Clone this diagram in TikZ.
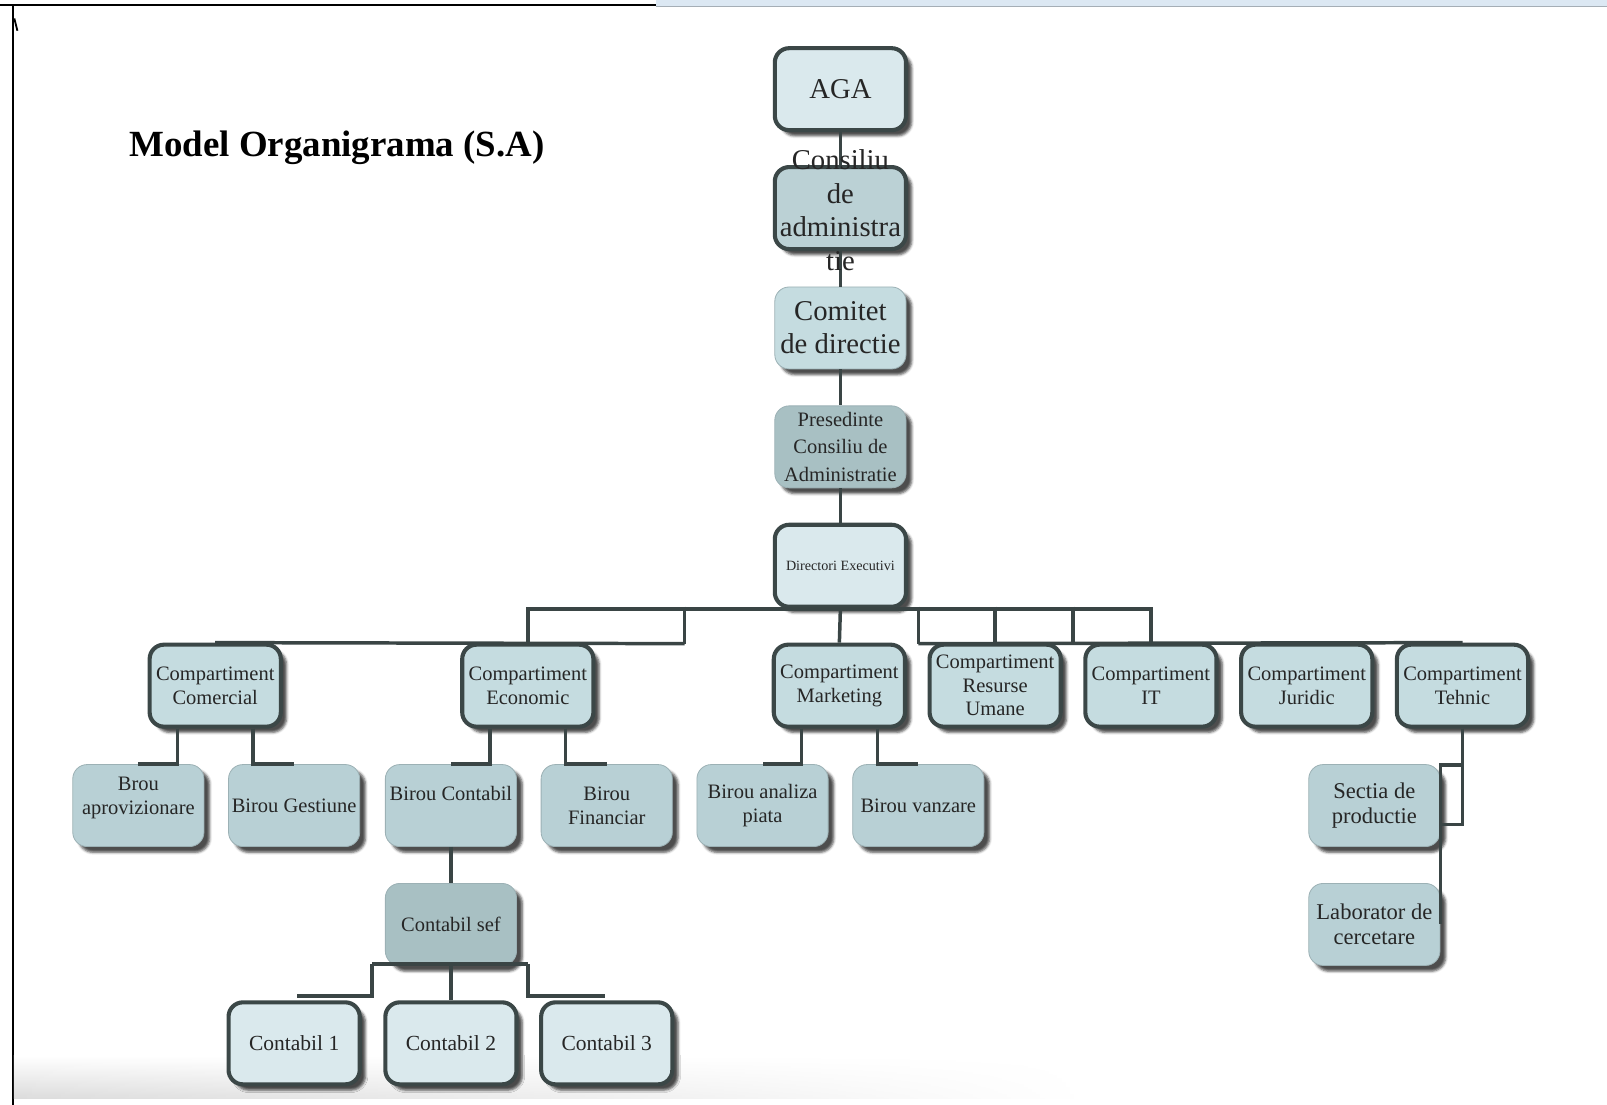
\documentclass[tikz,border=0pt]{standalone}
\usepackage{fontspec}
\setmainfont{Liberation Serif}
\usepackage{xcolor}
\usetikzlibrary{shadows.blur}
\usetikzlibrary{fadings}
\usetikzlibrary{calc}

\definecolor{boxline}{HTML}{3B4747}
\definecolor{linkcol}{HTML}{3A4545}
\definecolor{paleblue}{HTML}{DAE9ED}
\definecolor{unitfill}{HTML}{C5DCE0}
\definecolor{officefill}{HTML}{B8D0D5}
\definecolor{greyfill}{HTML}{A8C0C3}
\definecolor{topband}{HTML}{DCE8F3}

\tikzset{
  orgbox/.style={rounded corners=7pt, minimum width=64pt, minimum height=40pt,
    align=center, inner sep=1pt, text=black!85,
    blur shadow={shadow xshift=2.8pt, shadow yshift=-2.8pt, shadow blur radius=1.2pt, shadow opacity=70}},
  hardbox/.style={orgbox, draw=boxline, line width=2pt},
  softbox/.style={orgbox, draw=officefill!85!black, line width=0.4pt},
  unit/.style={hardbox, fill=unitfill, font=\fontsize{10}{11.5}\selectfont},
  office/.style={softbox, fill=officefill, font=\fontsize{10}{11.5}\selectfont},
  clerk/.style={hardbox, fill=paleblue, font=\fontsize{10.5}{12}\selectfont},
  link/.style={draw=linkcol, line width=1.7pt},
}

\begin{document}
\begin{tikzpicture}[x=0.5pt,y=0.5pt,yscale=-1,xscale=1]
\useasboundingbox (0,0) rectangle (1568,1078);

%Page frame
\fill[topband] (640,0) rectangle (1568,6);
\draw[topband!75!black, line width=0.5pt] (640,6) -- (1568,6);
\draw[line width=1.3pt] (0,5) -- (640,5);
\draw[line width=0.9pt] (13,5) -- (13,1078);
\draw[line width=0.9pt] (14,18) -- (17,30);
\shade[top color=white, bottom color=black!14, path fading=east] (14,1030) rectangle (1060,1072);

% Text Node
\node[anchor=west, inner sep=0pt, font=\bfseries\fontsize{18}{20}\selectfont] (title) at (126,144) {Model Organigrama (S.A)};

%Top of the chart
\node[hardbox, fill=paleblue, font=\fontsize{14}{16}\selectfont] (aga) at (820,87) {AGA};
\node[hardbox, fill=unitfill!95!black] (cons) at (820,203) {};
\node[softbox, fill=unitfill, font=\fontsize{14}{16}\selectfont] (comi) at (820,320) {Comitet\\de directie};
\node[softbox, fill=greyfill, font=\fontsize{10}{13.5}\selectfont] (pres) at (820,436) {Presedinte\\Consiliu de\\Administratie};
\node[hardbox, fill=paleblue, font=\fontsize{6.9}{8}\selectfont] (dir) at (820,552) {Directori Executivi};

%Compartments
\node[unit] (com) at (210,669) {Compartiment\\Comercial};
\node[unit] (eco) at (515,669) {Compartiment\\Economic};
\node[unit] (mkt) at (819,669) {Compartiment\\Marketing};
\node[unit] (rum) at (971,669) {Compartiment\\Resurse\\Umane};
\node[unit] (it) at (1123,669) {Compartiment\\IT};
\node[unit] (jur) at (1275,669) {Compartiment\\Juridic};
\node[unit] (tec) at (1427,669) {Compartiment\\Tehnic};

%Offices
\node[office] (apr) at (135,786) {Brou\\aprovizionare\\[-2pt]\mbox{}};
\node[office] (ges) at (287,786) {Birou Gestiune};
\node[office] (bcon) at (440,786) {Birou Contabil\\\mbox{}};
\node[office] (bfin) at (592,786) {Birou\\Financiar};
\node[office] (ana) at (744,786) {Birou analiza\\piata};
\node[office] (vanz) at (896,786) {Birou vanzare};
\node[office, font=\fontsize{11}{12.5}\selectfont] (sec) at (1341,786) {Sectia de\\productie};
\node[office, fill=greyfill] (csef) at (440,902) {Contabil sef};
\node[office, font=\fontsize{11}{12.5}\selectfont] (lab) at (1341,902) {Laborator de\\cercetare};

%Accountants
\node[clerk] (c1) at (287,1018) {Contabil 1};
\node[clerk] (c2) at (440,1018) {Contabil 2};
\node[clerk] (c3) at (592,1018) {Contabil 3};

%Connectors
\draw[link] (aga.south) -- (cons.north);
\draw[link] (cons.south) -- (comi.north);
\draw[link] (comi.south) -- (pres.north);
\draw[link] (pres.south) -- (dir.north);
\draw[link] (dir.south) -- (mkt.north);
\draw[link] (eco.north) -- (eco.north |- dir.south) -- (it.north |- dir.south) -- (it.north);
\foreach \x [count=\i] in {668,896,971,1047} {
  \coordinate (up\i) at (\x,592);
  \coordinate (dn\i) at (\x,628);
  \draw[link] (up\i) -- (dn\i);
}
\draw[link] (com.north) -- (dn1);
\draw[link] (dn2) -- (tec.north);

\draw[link] ($(com.south)+(-37,0)$) |- (apr.north);
\draw[link] ($(com.south)+(37,0)$) |- (ges.north);
\draw[link] ($(eco.south)+(-37,0)$) |- (bcon.north);
\draw[link] ($(eco.south)+(37,0)$) |- (bfin.north);
\draw[link] ($(mkt.south)+(-37,0)$) |- (ana.north);
\draw[link] ($(mkt.south)+(37,0)$) |- (vanz.north);
\draw[link] (tec.south) |- ($(sec.north east)+(0,1)$) -- (lab.east);
\draw[link] (tec.south) |- ($(sec.south east)+(0,-22)$);

\draw[link] (bcon.south) -- (csef.north);
\draw[link] (csef.south) -- (c2.north);
\draw[link] ($(csef.south)+(-77,-2)$) -- ($(csef.south)+(75,-2)$);
\draw[link] ($(csef.south)+(-77,-2)$) |- ($(c1.north)+(3,-4)$);
\draw[link] ($(csef.south)+(75,-2)$) |- ($(c3.north)+(-2,-4)$);

% Text Node
\node[align=center, inner sep=0pt, text=black!85, font=\fontsize{14}{16.3}\selectfont] (consT) at ($(cons.center)+(0,2)$) {Consiliu\\de\\administra\\tie};

\end{tikzpicture}
\end{document}
